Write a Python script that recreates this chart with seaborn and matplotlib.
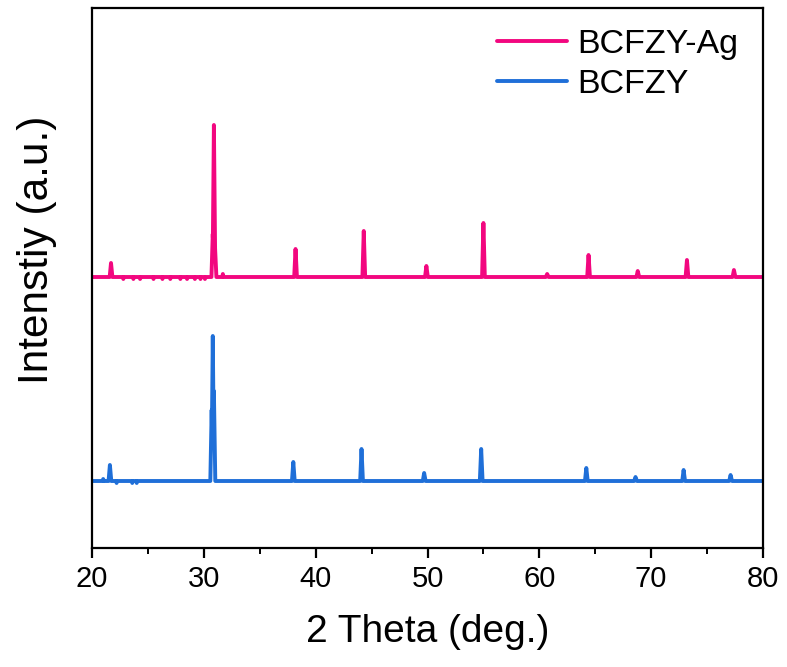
import numpy as np
import pandas as pd
import matplotlib
matplotlib.use("Agg")
import matplotlib.pyplot as plt
import seaborn as sns
from matplotlib.ticker import MultipleLocator
from matplotlib.lines import Line2D

# ---- data (arbitrary intensity units) ----
series_names = ["BCFZY-Ag", "BCFZY"]
offsets = [204, 0]

ag_peak_pos = [21.7, 30.8, 30.9, 31.0, 38.2, 44.3, 49.9, 55.0, 60.7, 64.4, 68.8, 73.2, 77.4]
ag_peak_h   = [14,   43,   152,  30,   28,   46,   11,   54,   3,    22,   6,    17,   7]
ag_dip_pos  = [22.8, 23.7, 24.3, 25.5, 26.3, 27.0, 27.9, 28.5, 29.2, 29.7, 30.1, 31.7]
ag_dip_h    = [-2,   -2,   -2,   -2,   -2,   -2,   -2,   -2,   -2,   -2,   -2,   3]

b_peak_pos = [21.6, 30.7, 30.8, 30.9, 38.0, 44.1, 49.7, 54.8, 64.2, 68.6, 72.9, 77.1]
b_peak_h   = [16,   71,   145,  90,   19,   32,   8,    32,   13,   4,    11,   6]
b_dip_pos  = [21.0, 22.2, 23.6, 24.0]
b_dip_h    = [2,    -2,   -2,   -2]

colors = ["#F2077F", "#1F6FD8"]

# ---- build profiles (narrow peaks on a flat baseline) ----
x = np.linspace(20, 80, 12001)

def profile(pos, h, dpos, dh, w=0.12, wd=0.04):
    y = np.zeros_like(x)
    for c, a in zip(pos, h):
        tri = a * np.clip(1 - np.abs(x - c) / w, 0, None)
        y = np.maximum(y, tri)
    for c, a in zip(dpos, dh):
        tri = a * np.clip(1 - np.abs(x - c) / wd, 0, None)
        y = y + tri
    return y

frames = []
for name, off, (p, h, dp, dh) in zip(
        series_names, offsets,
        [(ag_peak_pos, ag_peak_h, ag_dip_pos, ag_dip_h),
         (b_peak_pos, b_peak_h, b_dip_pos, b_dip_h)]):
    frames.append(pd.DataFrame({"x": x, "y": profile(p, h, dp, dh) + off, "s": name}))
df = pd.concat(frames, ignore_index=True)

# ---- plot ----
sns.set_style("white")
plt.rcParams["font.family"] = ["Liberation Sans", "DejaVu Sans"]
plt.rcParams["text.color"] = "black"
plt.rcParams["axes.labelcolor"] = "black"
plt.rcParams["xtick.color"] = "black"

fig = plt.figure(figsize=(7.87, 6.67), dpi=100)
ax = fig.add_axes([92/787, 1 - 548/667, (763 - 92)/787, (548 - 8)/667])

sns.lineplot(data=df, x="x", y="y", hue="s", hue_order=series_names,
             palette=colors, estimator=None, sort=False, linewidth=2.8,
             ax=ax, legend=False)

ax.set_xlim(20, 80)
ax.set_ylim(-67, 473)
ax.set_yticks([])
ax.xaxis.set_major_locator(MultipleLocator(10))
ax.xaxis.set_minor_locator(MultipleLocator(5))
ax.tick_params(axis="x", which="major", direction="out", length=7, width=1.6,
               bottom=True, labelsize=21, pad=5, colors="black")
ax.tick_params(axis="x", which="minor", direction="out", length=4, width=1.4,
               bottom=True)

for sp in ax.spines.values():
    sp.set_visible(True)
    sp.set_color("black")
    sp.set_linewidth(1.6)

ax.set_xlabel("2 Theta (deg.)", fontsize=28, labelpad=15)
ax.set_ylabel("Intenstiy (a.u.)", fontsize=30.5)
ax.yaxis.set_label_coords(-0.052, 0.552)

handles = [Line2D([], [], color=c, linewidth=2.8) for c in colors]
fig.legend(handles, series_names, loc="upper left",
           bbox_to_anchor=(497/787, 1 - 29/667), bbox_transform=fig.transFigure,
           frameon=False, fontsize=24.5, handlelength=2.05, handletextpad=0.3,
           labelspacing=0.26, borderpad=0, borderaxespad=0)

fig.savefig("out.png", dpi=100)
